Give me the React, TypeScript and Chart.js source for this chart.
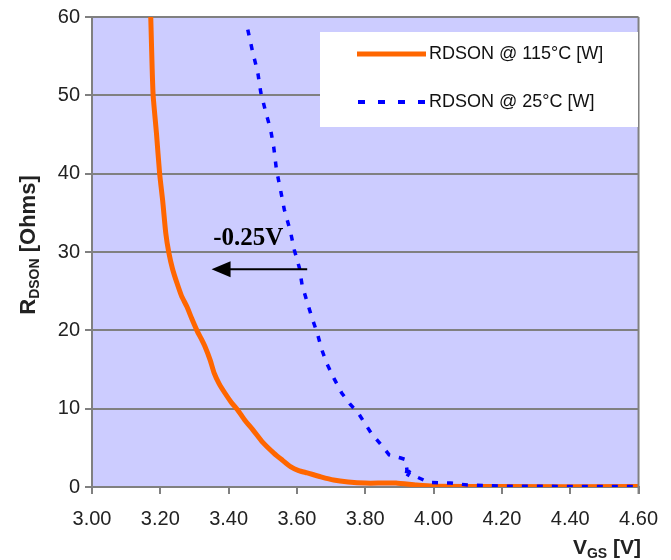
import React, { useEffect, useRef } from 'react';
import { Chart, registerables } from 'chart.js';

Chart.register(...registerables);

// ---- Data ----
const xTicks = [3.0, 3.2, 3.4, 3.6, 3.8, 4.0, 4.2, 4.4, 4.6];
const yTicks = [0, 10, 20, 30, 40, 50, 60];

const seriesLabels = ['RDSON @ 115°C [W]', 'RDSON @ 25°C [W]'];

// RDSON @ 115°C
const hotVgs = [3.172, 3.176, 3.179, 3.189, 3.198, 3.207, 3.216, 3.225, 3.236, 3.249, 3.262, 3.278, 3.292, 3.307, 3.320, 3.331, 3.346, 3.358, 3.372, 3.389, 3.408, 3.427, 3.448, 3.471, 3.500, 3.533, 3.558, 3.581, 3.605, 3.630, 3.670, 3.707, 3.750, 3.800, 3.850, 3.890, 3.950, 4.000, 4.200, 4.600];
const hotR = [60, 53.6, 50, 45, 40, 36.5, 32.4, 29.9, 27.8, 26, 24.4, 23, 21.5, 20, 18.9, 17.9, 16.2, 14.5, 13.2, 12, 10.8, 9.8, 8.5, 7.3, 5.7, 4.3, 3.4, 2.6, 2.1, 1.8, 1.3, 0.9, 0.65, 0.5, 0.5, 0.5, 0.25, 0.1, 0.05, 0.05];

// RDSON @ 25°C
const coldVgs = [3.456, 3.471, 3.485, 3.494, 3.509, 3.523, 3.532, 3.540, 3.552, 3.563, 3.581, 3.592, 3.607, 3.615, 3.630, 3.644, 3.659, 3.673, 3.687, 3.708, 3.731, 3.755, 3.780, 3.817, 3.846, 3.870, 3.904, 3.918, 3.922, 3.918, 3.930, 3.950, 3.985, 4.050, 4.100, 4.200, 4.600];
const coldR = [58.4, 55.4, 53, 50.4, 47.8, 45.6, 43.4, 40.5, 37.9, 35.4, 32.6, 30.3, 28, 25.8, 23.6, 21.6, 19.7, 17.5, 15.8, 13.9, 12, 10.6, 9.4, 6.9, 5.4, 4.1, 3.7, 3.5, 2.2, 1.0, 1.9, 1.3, 0.6, 0.5, 0.25, 0.1, 0.05];

// Annotation: shift of -0.25V
const shiftLabel = '-0.25V';
const shiftLabelAt = [3.355, 30.9];
const arrowFrom = [3.63, 27.8];
const arrowTo = [3.35, 27.8];

const yTitle = ['R', 'DSON', ' [Ohms]'];
const xTitle = ['V', 'GS', ' [V]'];

const FONT = '"Liberation Sans", Arial, sans-serif';

function drawComposite(ctx: CanvasRenderingContext2D, parts: string[], startX: number, baseY: number, big: number, small: number) {
  let x = startX;
  ctx.font = `bold ${big}px ${FONT}`;
  ctx.fillText(parts[0], x, baseY);
  x += ctx.measureText(parts[0]).width;
  ctx.font = `bold ${small}px ${FONT}`;
  ctx.fillText(parts[1], x, baseY + 4);
  x += ctx.measureText(parts[1]).width;
  ctx.font = `bold ${big}px ${FONT}`;
  ctx.fillText(parts[2], x, baseY);
}

function compositeWidth(ctx: CanvasRenderingContext2D, parts: string[], big: number, small: number) {
  ctx.font = `bold ${big}px ${FONT}`;
  let w = ctx.measureText(parts[0]).width + ctx.measureText(parts[2]).width;
  ctx.font = `bold ${small}px ${FONT}`;
  w += ctx.measureText(parts[1]).width;
  return w;
}

const decorPlugin = {
  id: 'decor',
  beforeDraw(chart: any) {
    const { ctx, chartArea: a } = chart;
    ctx.save();
    ctx.fillStyle = '#FFFFFF';
    ctx.fillRect(0, 0, chart.width, chart.height);
    ctx.fillStyle = '#CCCCFF';
    ctx.fillRect(a.left, a.top, a.right - a.left, a.bottom - a.top);
    ctx.restore();
  },
  afterDatasetsDraw(chart: any) {
    const { ctx, chartArea: a } = chart;
    const xs = chart.scales.x;
    const ys = chart.scales.y;
    ctx.save();
    // right border of plot
    ctx.strokeStyle = '#808080';
    ctx.lineWidth = 2;
    ctx.beginPath();
    ctx.moveTo(a.right, a.top);
    ctx.lineTo(a.right, a.bottom + 7);
    ctx.stroke();

    // legend box
    ctx.fillStyle = '#FFFFFF';
    ctx.fillRect(320, 32, 318, 95);
    ctx.lineWidth = 5;
    ctx.strokeStyle = '#FF6600';
    ctx.beginPath();
    ctx.moveTo(357, 54);
    ctx.lineTo(426, 54);
    ctx.stroke();
    ctx.lineWidth = 4;
    ctx.strokeStyle = '#0000FF';
    ctx.setLineDash([7, 13]);
    ctx.beginPath();
    ctx.moveTo(358, 102);
    ctx.lineTo(430, 102);
    ctx.stroke();
    ctx.setLineDash([]);
    ctx.fillStyle = '#111111';
    ctx.font = `18px ${FONT}`;
    ctx.textBaseline = 'middle';
    ctx.textAlign = 'left';
    ctx.fillText(seriesLabels[0], 429, 54);
    ctx.fillText(seriesLabels[1], 429, 102);

    // annotation
    ctx.textBaseline = 'alphabetic';
    ctx.fillStyle = '#000000';
    ctx.font = 'bold 25px "Liberation Serif", "Times New Roman", serif';
    ctx.fillText(shiftLabel, xs.getPixelForValue(shiftLabelAt[0]), ys.getPixelForValue(shiftLabelAt[1]));
    const x1 = xs.getPixelForValue(arrowFrom[0]);
    const y1 = ys.getPixelForValue(arrowFrom[1]);
    const x2 = xs.getPixelForValue(arrowTo[0]);
    const y2 = ys.getPixelForValue(arrowTo[1]);
    ctx.strokeStyle = '#000000';
    ctx.lineWidth = 2;
    ctx.beginPath();
    ctx.moveTo(x1, y1);
    ctx.lineTo(x2 + 15, y2);
    ctx.stroke();
    ctx.beginPath();
    ctx.moveTo(x2, y2);
    ctx.lineTo(x2 + 19, y2 - 8);
    ctx.lineTo(x2 + 19, y2 + 8);
    ctx.closePath();
    ctx.fill();

    // y axis title (rotated)
    ctx.fillStyle = '#222222';
    ctx.save();
    ctx.translate(27, 245);
    ctx.rotate(-Math.PI / 2);
    const wy = compositeWidth(ctx, yTitle, 22, 14);
    drawComposite(ctx, yTitle, -wy / 2, 8, 22, 14);
    ctx.restore();

    // x axis title
    const wx = compositeWidth(ctx, xTitle, 21, 14);
    drawComposite(ctx, xTitle, 641 - wx, 554, 21, 14);
    ctx.restore();
  },
};

export default function App() {
  const ref = useRef<HTMLCanvasElement | null>(null);
  useEffect(() => {
    document.body.style.margin = '0';
    if (!ref.current) return;
    const hot = hotVgs.map((v, i) => ({ x: v, y: hotR[i] }));
    const cold = coldVgs.map((v, i) => ({ x: v, y: coldR[i] }));
    const chart = new Chart(ref.current, {
      type: 'scatter',
      data: {
        datasets: [
          {
            label: seriesLabels[1],
            data: cold,
            showLine: true,
            borderColor: '#0000FF',
            backgroundColor: '#0000FF',
            borderWidth: 3.5,
            borderDash: [6, 9],
            pointRadius: 0,
            tension: 0,
          },
          {
            label: seriesLabels[0],
            data: hot,
            showLine: true,
            borderColor: '#FF6600',
            backgroundColor: '#FF6600',
            borderWidth: 5,
            pointRadius: 0,
            tension: 0.2,
          },
        ],
      },
      options: {
        animation: false,
        responsive: false,
        devicePixelRatio: 1,
        layout: { padding: { left: 0, top: 17, right: 25, bottom: 0 } },
        plugins: { legend: { display: false }, tooltip: { enabled: false }, title: { display: false } },
        scales: {
          x: {
            type: 'linear',
            min: 3,
            max: 4.6,
            afterBuildTicks: (s: any) => { s.ticks = xTicks.map((v) => ({ value: v })); },
            afterFit: (s: any) => { s.height = 73; },
            ticks: {
              callback: (v: any) => Number(v).toFixed(2),
              font: { size: 20, family: FONT },
              color: '#222222',
              padding: 13,
              maxRotation: 0,
              autoSkip: false,
            },
            grid: { drawOnChartArea: false, drawTicks: true, tickLength: 7, color: '#808080', lineWidth: 2 },
            border: { color: '#808080', width: 2 },
          },
          y: {
            type: 'linear',
            min: 0,
            max: 60,
            afterBuildTicks: (s: any) => { s.ticks = yTicks.map((v) => ({ value: v })); },
            afterFit: (s: any) => { s.width = 92; },
            ticks: {
              font: { size: 20, family: FONT },
              color: '#222222',
              padding: 5,
            },
            grid: { drawOnChartArea: true, drawTicks: true, tickLength: 7, color: '#808080', lineWidth: 2 },
            border: { color: '#808080', width: 2 },
          },
        },
      },
      plugins: [decorPlugin],
    });
    return () => chart.destroy();
  }, []);
  return <canvas ref={ref} width={671} height={560} style={{ display: 'block' }} />;
}
